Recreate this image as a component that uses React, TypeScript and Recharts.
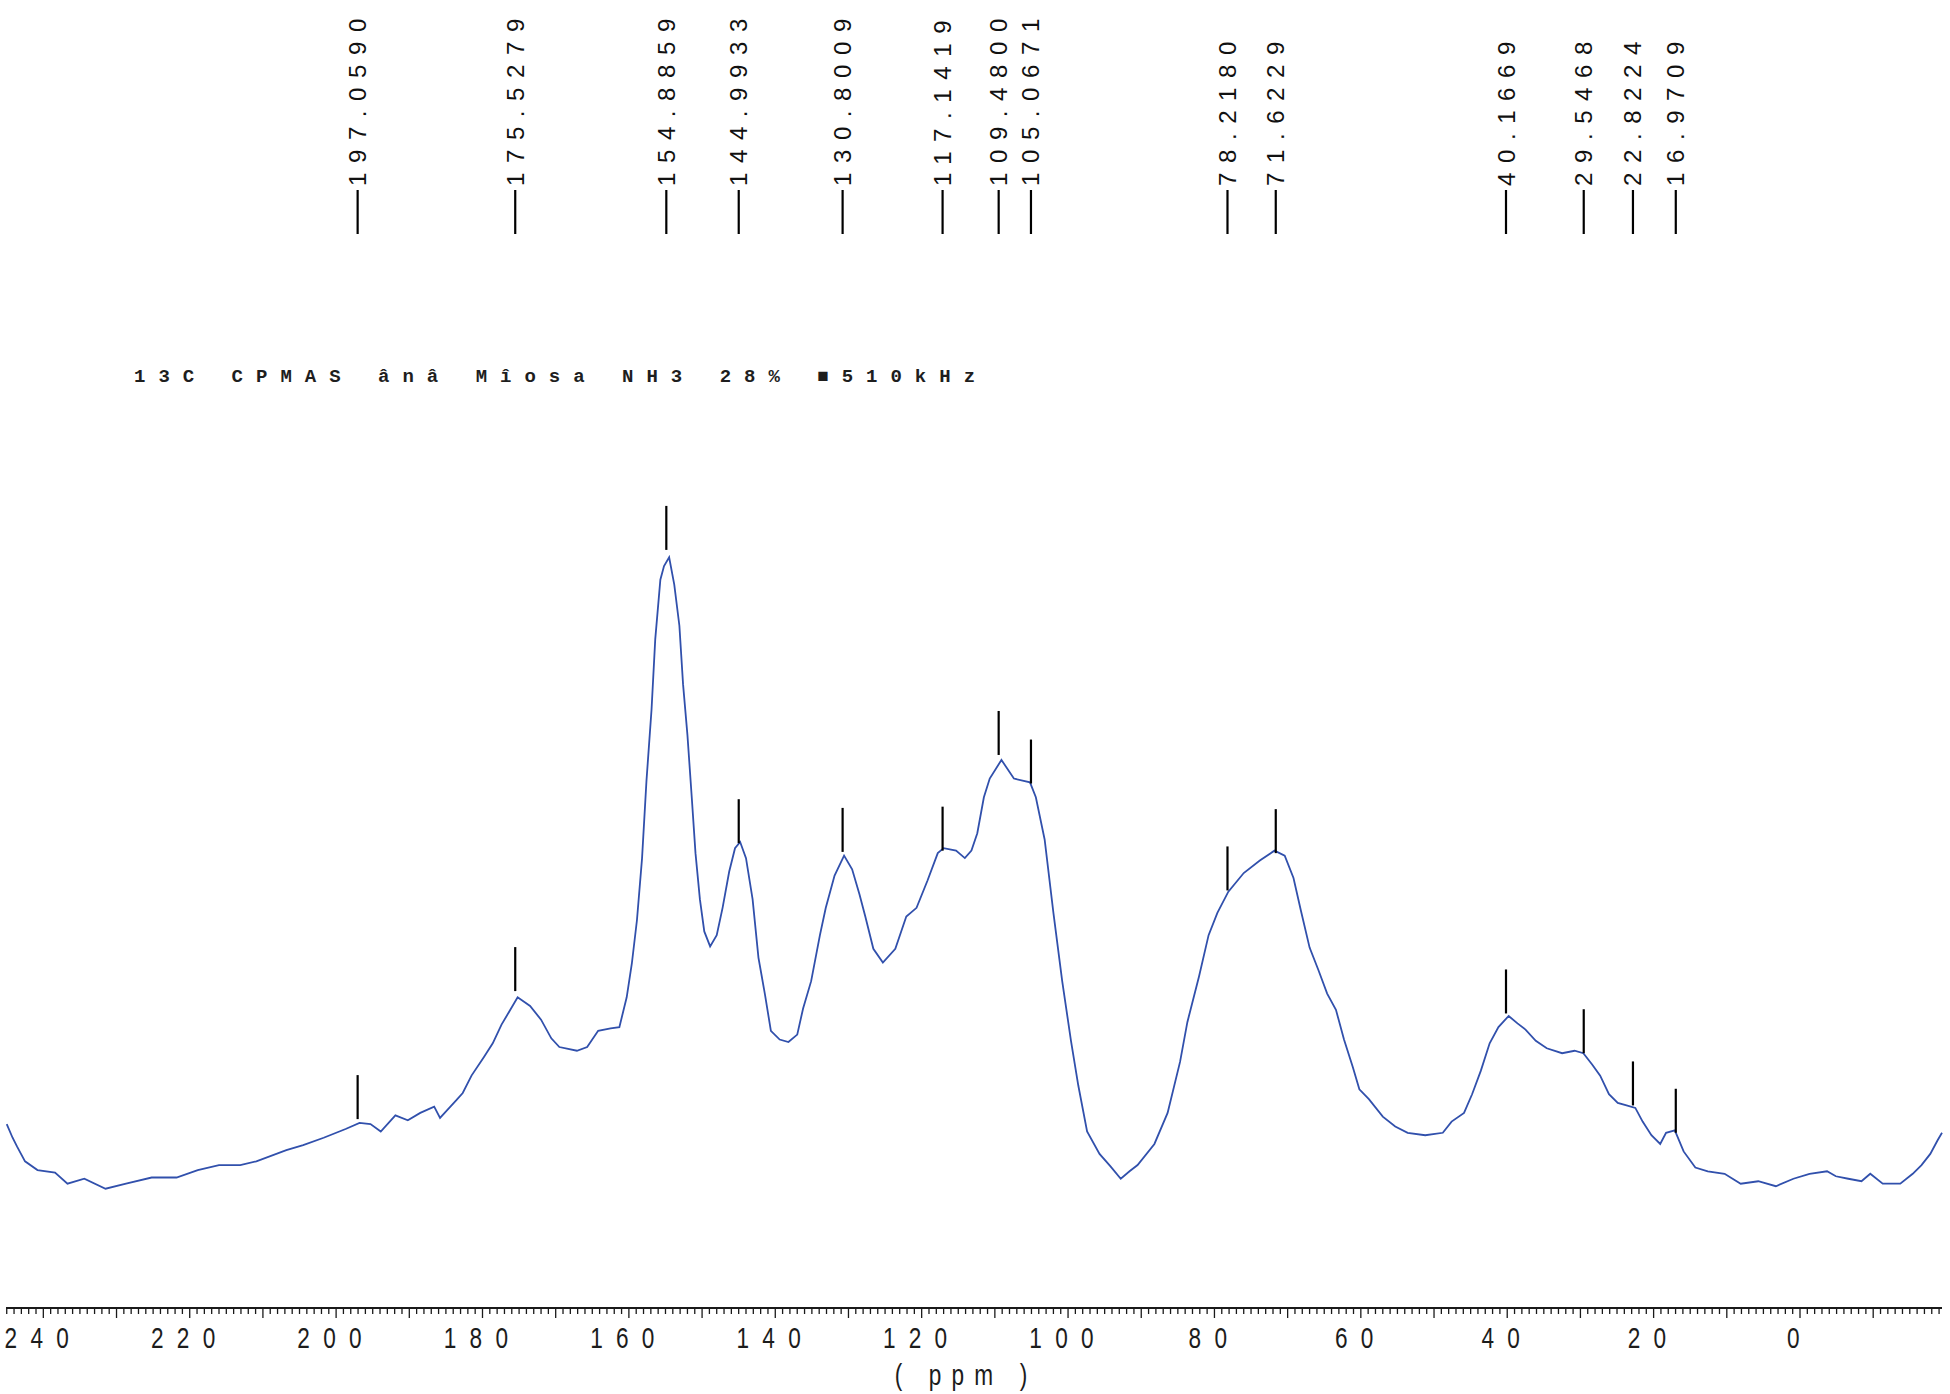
import React from 'react';
import { ComposedChart, Line, Scatter, XAxis, YAxis } from 'recharts';

// chemical shift (ppm) of the traced spectrum points
const spectrumPpm = [
  245.0, 244.2, 243.6, 242.5, 240.8, 238.4, 236.7, 234.4, 231.5, 228.7,
  225.2, 221.8, 218.9, 216.0, 213.1, 210.9, 206.8, 204.5, 201.7, 198.7,
  196.8, 195.3, 193.9, 191.9, 190.2, 188.5, 186.6, 185.8, 184.7, 183.6,
  182.7, 181.5, 179.8, 178.6, 177.4, 176.3, 175.2, 173.5, 172.0, 170.6,
  169.5, 167.1, 165.7, 164.2, 162.5, 161.3, 160.3, 159.6, 158.9, 158.2,
  157.6, 156.9, 156.4, 155.7, 155.2, 154.5, 153.8, 153.1, 152.6, 152.0,
  151.4, 150.9, 150.3, 149.7, 148.9, 148.0, 147.2, 146.3, 145.5, 144.8,
  144.0, 143.1, 142.3, 141.4, 140.6, 139.4, 138.2, 137.0, 136.2, 135.1,
  133.9, 133.1, 131.9, 130.6, 129.5, 128.5, 127.7, 126.6, 125.3, 123.6,
  122.1, 120.7, 119.2, 117.8, 117.0, 115.3, 114.1, 113.2, 112.4, 111.5,
  110.7, 109.1, 107.4, 105.2, 104.4, 103.2, 102.0, 100.8, 99.6, 98.6,
  97.4, 95.7, 94.2, 92.8, 91.6, 90.5, 88.2, 86.4, 84.7, 83.7,
  82.1, 80.8, 79.6, 78.1, 76.0, 73.8, 71.8, 70.4, 69.2, 68.2,
  67.0, 65.8, 64.6, 63.4, 62.3, 61.1, 60.2, 58.9, 57.0, 55.3,
  53.6, 51.2, 48.8, 47.6, 45.9, 44.8, 43.6, 42.4, 41.2, 39.8,
  38.6, 37.5, 36.1, 34.6, 32.5, 30.8, 29.6, 28.4, 27.3, 26.1,
  24.9, 23.7, 22.5, 21.5, 20.3, 19.1, 18.3, 17.1, 15.9, 14.3,
  12.6, 10.3, 8.1, 5.7, 3.3, 0.9, -1.3, -3.7, -4.9, -6.6,
  -8.4, -9.6, -11.3, -13.7, -15.4, -16.6, -17.8, -18.8, -19.4,
];

// intensity (arbitrary units) at each traced point
const spectrumIntensity = [
  56, 45, 38, 26, 19, 17, 8, 12, 4, 8,
  13, 13, 19, 23, 23, 26, 35, 39, 45, 52,
  57, 56, 50, 63, 59, 65, 70, 61, 68, 75,
  81, 95, 110, 121, 136, 147, 158, 151, 140, 125,
  118, 115, 118, 131, 133, 134, 158, 185, 220, 270,
  332, 390, 446, 494, 505, 512, 490, 457, 410, 369,
  318, 274, 237, 211, 199, 208, 230, 259, 278, 283,
  270, 237, 190, 160, 131, 124, 122, 128, 149, 171,
  208, 230, 256, 272, 261, 241, 223, 197, 186, 197,
  223, 230, 252, 274, 278, 276, 270, 276, 290, 319,
  334, 349, 334, 331, 319, 285, 226, 171, 123, 87,
  50, 32, 22, 12, 18, 23, 40, 65, 106, 138,
  175, 208, 226, 243, 258, 268, 276, 272, 254, 228,
  198, 180, 161, 148, 124, 102, 84, 76, 62, 54,
  49, 47, 49, 58, 65, 80, 99, 121, 134, 143,
  137, 132, 123, 117, 113, 115, 113, 104, 95, 80,
  73, 71, 69, 58, 47, 40, 49, 51, 34, 21,
  18, 16, 8, 10, 6, 12, 16, 18, 14, 12,
  10, 16, 8, 8, 16, 23, 32, 43, 49,
];

// picked peaks
const peakPpm = [
  197.059, 175.5279, 154.8859, 144.9933, 130.8009, 117.1419, 109.48,
  105.0671, 78.218, 71.6229, 40.1669, 29.5468, 22.8224, 16.9709,
];
const peakHeight = [60, 163, 518, 282, 275, 276, 353, 330, 244, 274, 145, 113, 71, 49];

const axisLabels = [240, 220, 200, 180, 160, 140, 120, 100, 80, 60, 40, 20, 0];
const titleText = '13C CPMAS ânâ Mîosa NH3 28% ■510kHz';
const axisTitle = '( ppm )';

const spectrum = spectrumPpm.map((p, k) => ({ ppm: p, i: spectrumIntensity[k] }));
const peaks = peakPpm.map((p, k) => ({ ppm: p, h: peakHeight[k] }));
const minorTicks = Array.from({ length: 265 }, (_, k) => 245 - k);

const LABEL_FONT = '"Liberation Sans", Arial, sans-serif';

const AxisTick = (props: any) => {
  const { x, y, payload } = props;
  const v = payload.value;
  const major = v % 10 === 0;
  const hasLabel = axisLabels.includes(v);
  return (
    <g>
      <line x1={x} x2={x} y1={y} y2={y + (major ? 10 : 6)} stroke="#1a1a1a" strokeWidth={1.3} />
      {hasLabel && (
        <text
          transform={`translate(${x},${y + 40}) scale(0.78,1)`}
          textAnchor="middle"
          fontFamily={LABEL_FONT}
          fontSize={29}
          letterSpacing={17}
          fill="#1c1c1c"
        >
          {v}
        </text>
      )}
    </g>
  );
};

const PeakShape = (props: any) => {
  const { cx, cy, payload } = props;
  return (
    <g>
      <line x1={cx} x2={cx} y1={cy} y2={cy - 44} stroke="#000" strokeWidth={2.2} />
      <line x1={cx} x2={cx} y1={190} y2={234} stroke="#000" strokeWidth={2.2} />
      <text
        transform={`translate(${cx + 8.5},186) rotate(-90)`}
        textAnchor="start"
        fontFamily={LABEL_FONT}
        fontSize={24}
        letterSpacing={9.6}
        fill="#111"
      >
        {payload.ppm.toFixed(4)}
      </text>
    </g>
  );
};

const PpmLabel = (props: any) => {
  const { viewBox } = props;
  return (
    <text
      transform={`translate(${966},${viewBox.y + 77}) scale(0.78,1)`}
      textAnchor="middle"
      fontFamily={LABEL_FONT}
      fontSize={29}
      letterSpacing={13}
      fill="#1c1c1c"
    >
      {axisTitle}
    </text>
  );
};

export default function App() {
  return (
    <div style={{ position: 'absolute', left: 0, top: 0, width: 1950, height: 1394, background: '#fff' }}>
      <ComposedChart
        width={1950}
        height={1394}
        margin={{ top: 448, right: 8, bottom: 0, left: 6 }}
      >
        <XAxis
          dataKey="ppm"
          type="number"
          domain={[-19.4, 245.1]}
          reversed
          ticks={minorTicks}
          interval={0}
          height={86}
          tickLine={false}
          tickSize={0}
          tickMargin={0}
          axisLine={{ stroke: '#1a1a1a', strokeWidth: 2 }}
          tick={<AxisTick />}
          label={<PpmLabel />}
        />
        <YAxis type="number" domain={[-92, 600]} hide />
        <Line
          data={spectrum}
          dataKey="i"
          type="linear"
          stroke="#3150ac"
          strokeWidth={1.8}
          dot={false}
          activeDot={false}
          isAnimationActive={false}
        />
        <Scatter data={peaks} dataKey="h" shape={<PeakShape />} isAnimationActive={false} />
      </ComposedChart>
      <svg
        width={1950}
        height={1394}
        style={{ position: 'absolute', left: 0, top: 0, pointerEvents: 'none' }}
      >
        <text
          x={134}
          y={382}
          fontFamily='"Liberation Mono", "DejaVu Sans Mono", monospace'
          fontWeight="bold"
          fontSize={19}
          letterSpacing={13}
          fill="#1e1e1e"
        >
          {titleText}
        </text>
      </svg>
    </div>
  );
}
